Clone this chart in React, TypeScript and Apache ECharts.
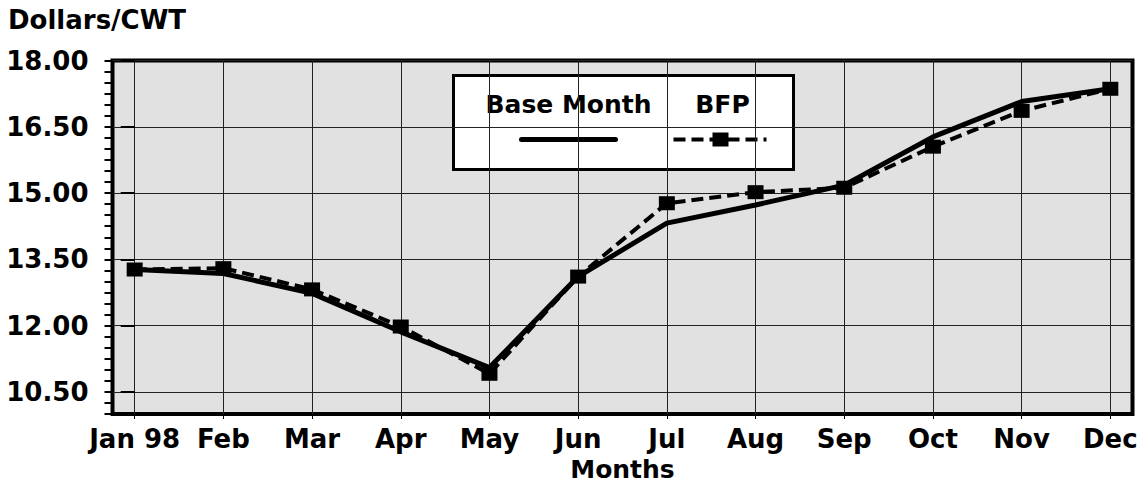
import React, { useEffect, useRef } from "react";
import * as echarts from "echarts";

const months = ["Jan 98", "Feb", "Mar", "Apr", "May", "Jun", "Jul", "Aug", "Sep", "Oct", "Nov", "Dec"];
const baseMonth = [13.27, 13.18, 12.73, 11.86, 11.05, 13.11, 14.32, 14.73, 15.18, 16.27, 17.07, 17.36];
const bfp = [13.27, 13.3, 12.82, 11.98, 10.91, 13.11, 14.77, 15.02, 15.12, 16.05, 16.86, 17.36];
const yMajor = [10.5, 12, 13.5, 15, 16.5, 18];
const xIdx = months.map((_, i) => i);

const FONT = "'DejaVu Sans', 'Liberation Sans', sans-serif";

export default function App() {
  const ref = useRef<HTMLDivElement>(null);
  useEffect(() => {
    if (!ref.current) return;
    const chart = echarts.init(ref.current, null, { renderer: "svg" });
    chart.setOption({
      animation: false,
      textStyle: { fontFamily: FONT },
      grid: {
        left: 112.5,
        top: 60.5,
        right: 13.5,
        bottom: 69,
        outerBoundsMode: "none",
        containLabel: false,
        show: true,
        backgroundColor: "#e1e1e1",
        borderColor: "#000",
        borderWidth: 4,
      },
      xAxis: {
        type: "value",
        min: -0.25,
        max: 11.25,
        interval: 0.25,
        name: "Months",
        nameLocation: "middle",
        nameGap: 42,
        nameTextStyle: { color: "#000", fontWeight: "bold", fontSize: 25, fontFamily: FONT },
        axisLine: { show: false },
        axisTick: { show: true, customValues: xIdx, length: 5, lineStyle: { color: "#000", width: 1 } },
        axisLabel: {
          customValues: xIdx,
          formatter: (v: number) => months[Math.round(v)] ?? "",
          color: "#000",
          fontWeight: "bold",
          fontSize: 26,
          fontFamily: FONT,
          margin: 12,
        },
        splitLine: { show: true, lineStyle: { color: "#222", width: 1 } },
      },
      yAxis: [
        {
          type: "value",
          min: 10,
          max: 18,
          interval: 0.5,
          position: "left",
          axisLine: { show: false },
          axisTick: { show: true, customValues: yMajor, length: 14, lineStyle: { color: "#000", width: 2 } },
          axisLabel: {
            customValues: yMajor,
            formatter: (v: number) => v.toFixed(2),
            color: "#000",
            fontWeight: "bold",
            fontSize: 26,
            fontFamily: FONT,
            margin: 24,
          },
          splitLine: { show: true, lineStyle: { color: "#222", width: 1 } },
        },
        {
          type: "value",
          min: 10,
          max: 18,
          interval: 0.25,
          position: "left",
          offset: 0,
          axisLine: { show: false },
          axisTick: { show: true, length: 8, lineStyle: { color: "#000", width: 2 } },
          axisLabel: { show: false },
          splitLine: { show: false },
        },
      ],
      series: [
        {
          name: "Base Month",
          type: "line",
          data: baseMonth.map((v, i) => [i, v]),
          showSymbol: false,
          symbol: "none",
          lineStyle: { color: "#000", width: 5 },
          z: 3,
        },
        {
          name: "BFP",
          type: "line",
          data: bfp.map((v, i) => [i, v]),
          symbol: "rect",
          symbolSize: [16, 14],
          itemStyle: { color: "#000" },
          lineStyle: { color: "#000", width: 4, type: [12, 6] },
          z: 4,
        },
      ],
      graphic: [
        {
          type: "text",
          left: 8,
          top: 7,
          style: { text: "Dollars/CWT", fill: "#000", font: `bold 26px ${FONT}` },
        },
        {
          type: "group",
          left: 452,
          top: 74,
          z: 10,
          children: [
            {
              type: "rect",
              shape: { x: 0, y: 0, width: 340, height: 94 },
              style: { fill: "#fff", stroke: "#000", lineWidth: 3 },
            },
            {
              type: "text",
              x: 115,
              y: 29,
              style: { text: "Base Month", fill: "#000", font: `bold 25px ${FONT}`, textAlign: "center", textVerticalAlign: "middle" },
            },
            {
              type: "text",
              x: 269,
              y: 29,
              style: { text: "BFP", fill: "#000", font: `bold 25px ${FONT}`, textAlign: "center", textVerticalAlign: "middle" },
            },
            {
              type: "line",
              shape: { x1: 68, y1: 64, x2: 162, y2: 64 },
              style: { stroke: "#000", lineWidth: 5, lineCap: "round" },
            },
            {
              type: "line",
              shape: { x1: 220, y1: 64, x2: 313, y2: 64 },
              style: { stroke: "#000", lineWidth: 4, lineDash: [12, 6] },
            },
            {
              type: "rect",
              shape: { x: 259, y: 57, width: 16, height: 14 },
              style: { fill: "#000" },
            },
          ],
        },
      ],
    });
    return () => chart.dispose();
  }, []);
  return (
    <div
      ref={ref}
      style={{ position: "absolute", left: 0, top: 0, width: 1146, height: 483 }}
    />
  );
}
